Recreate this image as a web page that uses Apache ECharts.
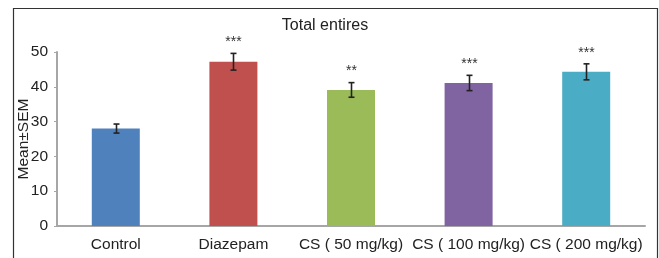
<!DOCTYPE html>
<html>
<head>
<meta charset="utf-8">
<script src="https://cdn.jsdelivr.net/npm/echarts@6/dist/echarts.min.js"></script>
<style>
  html, body { margin: 0; padding: 0; background: #fff; }
  #chart { width: 659px; height: 258px; }
</style>
</head>
<body>
<div id="chart"></div>
<script>
const categories = ['Control', 'Diazepam', 'CS ( 50 mg/kg)', 'CS ( 100 mg/kg)', 'CS ( 200 mg/kg)']
const means = [28, 47.2, 39.1, 41.1, 44.3]
const sems = [1.3, 2.4, 2.1, 2.2, 2.3]
const stars = ['', '***', '**', '***', '***']
const colors = ['#4f81bd', '#c0504d', '#9bbb59', '#8064a2', '#4bacc6']
const yTicks = [0, 10, 20, 30, 40, 50]

const chart = echarts.init(document.getElementById('chart'))
const font = 'Liberation Sans, Arial, sans-serif'

const option = {
  animation: false,
  title: {
    text: 'Total entires',
    left: 320,
    top: 13,
    textAlign: 'center',
    textStyle: { color: '#222', fontWeight: 'normal', fontSize: 16, fontFamily: font }
  },
  graphic: [
    {
      type: 'polyline',
      shape: { points: [[13.5, 260], [13.5, 8.5], [657.5, 8.5], [657.5, 260]] },
      style: { stroke: '#333', lineWidth: 1.2, fill: null },
      silent: true
    }
  ],
  grid: { left: 57, right: 14, top: 52, bottom: 32, containLabel: false, outerBoundsMode: 'none' },
  xAxis: {
    type: 'category',
    data: categories,
    axisLine: { lineStyle: { color: '#a6a6a6', width: 2 } },
    axisTick: { show: false },
    axisLabel: { color: '#222', fontSize: 15.5, fontFamily: font, margin: 11, interval: 0 }
  },
  yAxis: {
    type: 'value',
    min: yTicks[0],
    max: yTicks[yTicks.length - 1],
    interval: 10,
    name: 'Mean±SEM',
    nameLocation: 'middle',
    nameGap: 25,
    nameMoveOverlap: false,
    nameTextStyle: { color: '#222', fontSize: 15.5, fontFamily: font },
    axisLine: { show: true, lineStyle: { color: '#a6a6a6', width: 2 } },
    axisTick: { show: true, length: 3, lineStyle: { color: '#a6a6a6', width: 1 } },
    splitLine: { show: false },
    axisLabel: { color: '#222', fontSize: 15.5, fontFamily: font, margin: 9 }
  },
  series: [
    {
      type: 'bar',
      barWidth: 48,
      data: means.map((v, i) => ({ value: v, itemStyle: { color: colors[i] } }))
    },
    {
      type: 'custom',
      data: means.map((v, i) => [i, v - sems[i], v + sems[i]]),
      renderItem(params, api) {
        const i = api.value(0)
        const lo = api.coord([i, api.value(1)])
        const hi = api.coord([i, api.value(2)])
        const x = Math.round(lo[0]) + 0.5
        const w = 3
        const style = { stroke: '#222', lineWidth: 1.6 }
        return {
          type: 'group',
          children: [
            { type: 'line', shape: { x1: x, y1: hi[1], x2: x, y2: lo[1] }, style },
            { type: 'line', shape: { x1: x - w, y1: hi[1], x2: x + w, y2: hi[1] }, style },
            { type: 'line', shape: { x1: x - w, y1: lo[1], x2: x + w, y2: lo[1] }, style },
            {
              type: 'text',
              style: {
                text: stars[i], x: x, y: hi[1] - 4,
                align: 'center', verticalAlign: 'bottom',
                fill: '#333', font: '14px ' + font
              }
            }
          ]
        }
      },
      z: 5
    }
  ]
}
chart.setOption(option)
</script>
</body>
</html>
